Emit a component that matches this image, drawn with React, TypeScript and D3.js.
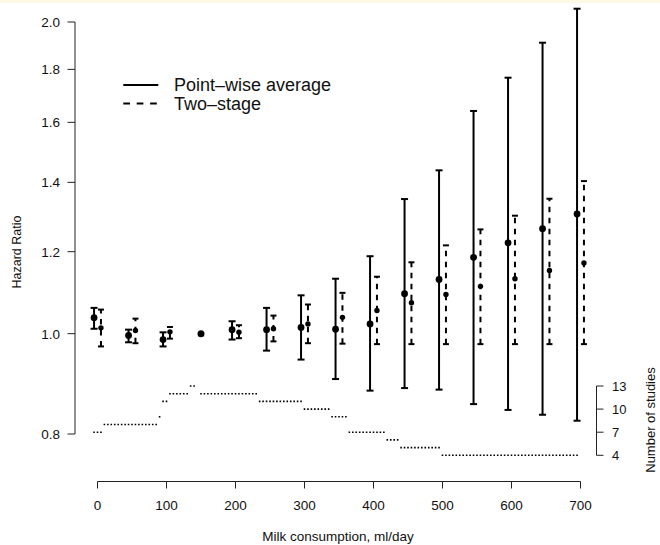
import React from "react";
import * as d3 from "d3";

const doses = [0, 50, 100, 200, 250, 300, 350, 400, 450, 500, 550, 600, 650, 700];
const pwHR = [1.036, 0.996, 0.987, 1.009, 1.009, 1.014, 1.01, 1.022, 1.093, 1.128, 1.185, 1.224, 1.263, 1.305];
const pwLo = [1.011, 0.981, 0.972, 0.987, 0.963, 0.944, 0.904, 0.881, 0.886, 0.883, 0.855, 0.844, 0.835, 0.824];
const pwHi = [1.059, 1.009, 1.003, 1.028, 1.059, 1.089, 1.13, 1.188, 1.349, 1.438, 1.641, 1.767, 1.91, 2.06];
const tsHR = [1.013, 1.007, 1.004, 1.003, 1.011, 1.022, 1.037, 1.053, 1.071, 1.091, 1.111, 1.13, 1.151, 1.17];
const tsLo = [0.972, 0.979, 0.989, 0.99, 0.983, 0.979, 0.978, 0.977, 0.977, 0.977, 0.977, 0.977, 0.977, 0.977];
const tsHi = [1.055, 1.034, 1.015, 1.019, 1.041, 1.067, 1.095, 1.135, 1.172, 1.217, 1.261, 1.3, 1.35, 1.404];
const refDose = 150;
const refHR = 1.0;

const stepStart = [-5, 10, 90, 95, 105, 135, 150, 235, 300, 340, 365, 420, 440, 500];
const stepEnd = [5, 85, 90, 100, 130, 140, 230, 295, 335, 360, 415, 435, 495, 695];
const stepCount = [7, 8, 9, 11, 12, 13, 12, 11, 10, 9, 7, 6, 5, 4];

const xTicks = [0, 100, 200, 300, 400, 500, 600, 700];
const yTicks = [0.8, 1.0, 1.2, 1.4, 1.6, 1.8, 2.0];
const nTicks = [4, 7, 10, 13];

const legendLabels = ["Point\u2013wise average", "Two\u2013stage"];

const FONT = "'Liberation Sans', Arial, Helvetica, sans-serif";

export default function App() {
  const W = 660;
  const H = 545;
  const x = d3.scaleLinear().domain([0, 700]).range([97.5, 580.5]);
  const y = d3.scaleLog().domain([0.8, 2.0]).range([434, 22]);
  const yN = d3.scaleLinear().domain([4, 13]).range([455.3, 386]);
  const off = 5;
  const dotPeriod = x(5) - x(0);

  const axisColor = "#222";
  const textColor = "#111";

  return (
    <svg
      width={W}
      height={H}
      style={{ position: "absolute", left: 0, top: 0, background: "#fff" }}
      fontFamily={FONT}
    >
      <rect x={0} y={0} width={W} height={3} fill="#fdf9e4" />

      {/* left axis */}
      <line x1={75} x2={75} y1={y(0.8)} y2={y(2.0)} stroke={axisColor} strokeWidth={1} />
      {yTicks.map((t) => (
        <g key={"yt" + t}>
          <line x1={67.5} x2={75} y1={y(t)} y2={y(t)} stroke={axisColor} strokeWidth={1} />
          <text x={60} y={y(t)} dy="0.36em" textAnchor="end" fontSize={13.5} fill={textColor}>
            {t.toFixed(1)}
          </text>
        </g>
      ))}
      <text
        transform={`translate(21,252) rotate(-90)`}
        textAnchor="middle"
        fontSize={12.5}
        fill={textColor}
      >
        Hazard Ratio
      </text>

      {/* bottom axis */}
      <line x1={x(0)} x2={x(700)} y1={481.5} y2={481.5} stroke={axisColor} strokeWidth={1} />
      {xTicks.map((t) => (
        <g key={"xt" + t}>
          <line x1={x(t)} x2={x(t)} y1={481.5} y2={488.5} stroke={axisColor} strokeWidth={1} />
          <text x={x(t)} y={510} textAnchor="middle" fontSize={13.5} fill={textColor}>
            {t}
          </text>
        </g>
      ))}
      <text x={338} y={541} textAnchor="middle" fontSize={13.5} fill={textColor}>
        Milk consumption, ml/day
      </text>

      {/* right axis */}
      <line x1={596.5} x2={596.5} y1={yN(4)} y2={yN(13)} stroke={axisColor} strokeWidth={1} />
      {nTicks.map((t) => (
        <g key={"nt" + t}>
          <line x1={596.5} x2={603.5} y1={yN(t)} y2={yN(t)} stroke={axisColor} strokeWidth={1} />
          <text x={612} y={yN(t)} dy="0.36em" textAnchor="start" fontSize={13} fill={textColor}>
            {t}
          </text>
        </g>
      ))}
      <text
        transform={`translate(655,420) rotate(-90)`}
        textAnchor="middle"
        fontSize={13}
        fill={textColor}
      >
        Number of studies
      </text>

      {/* number of studies dotted steps */}
      {stepCount.map((n, i) => (
        <line
          key={"st" + i}
          x1={x(stepStart[i]) - 0.8}
          x2={x(stepEnd[i]) + 0.8}
          y1={yN(n)}
          y2={yN(n)}
          stroke="#000"
          strokeWidth={1.6}
          strokeDasharray={`1.6 ${dotPeriod - 1.6}`}
        />
      ))}

      {/* point-wise average (solid) */}
      {doses.map((d, i) => {
        const cx = x(d - off);
        return (
          <g key={"pw" + i}>
            <line x1={cx} x2={cx} y1={y(pwLo[i])} y2={y(pwHi[i])} stroke="#000" strokeWidth={2} />
            <line x1={cx - 3.5} x2={cx + 3.5} y1={y(pwLo[i])} y2={y(pwLo[i])} stroke="#000" strokeWidth={2} />
            <line x1={cx - 3.5} x2={cx + 3.5} y1={y(pwHi[i])} y2={y(pwHi[i])} stroke="#000" strokeWidth={2} />
            <circle cx={cx} cy={y(pwHR[i])} r={3.4} fill="#000" />
          </g>
        );
      })}

      {/* two-stage (dashed) */}
      {doses.map((d, i) => {
        const cx = x(d + off);
        return (
          <g key={"ts" + i}>
            <line
              x1={cx}
              x2={cx}
              y1={y(tsLo[i])}
              y2={y(tsHi[i])}
              stroke="#000"
              strokeWidth={2}
              strokeDasharray="5.5 5.5"
            />
            <line x1={cx - 3} x2={cx + 3} y1={y(tsLo[i])} y2={y(tsLo[i])} stroke="#000" strokeWidth={2} />
            <line x1={cx - 3} x2={cx + 3} y1={y(tsHi[i])} y2={y(tsHi[i])} stroke="#000" strokeWidth={2} />
            <circle cx={cx} cy={y(tsHR[i])} r={2.7} fill="#000" />
          </g>
        );
      })}

      {/* reference */}
      <circle cx={x(refDose)} cy={y(refHR)} r={3.5} fill="#000" />

      {/* legend */}
      <line x1={123.3} x2={158.3} y1={85} y2={85} stroke="#000" strokeWidth={2} />
      <line x1={123.3} x2={158.3} y1={103.5} y2={103.5} stroke="#000" strokeWidth={2} strokeDasharray="6.7 6.7" />
      <text x={174} y={91.3} fontSize={18} fill={textColor}>
        {legendLabels[0]}
      </text>
      <text x={174} y={110} fontSize={18} fill={textColor}>
        {legendLabels[1]}
      </text>
    </svg>
  );
}
